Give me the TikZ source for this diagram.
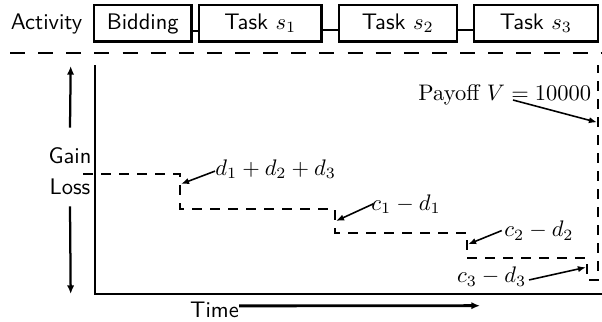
\documentclass[tikz,border=0pt]{standalone}
\usetikzlibrary{arrows.meta}
\begin{document}
\begin{tikzpicture}[x=0.4444pt,y=-0.4444pt,
  lbl/.style={font=\sffamily},
  actbox/.style={draw,line width=1pt,font=\sffamily,inner sep=0pt,
    minimum height=16.2pt,text height=7.5pt,text depth=2.1pt},
  link/.style={line width=1pt},
  axis/.style={line width=1pt},
  sep/.style={line width=1pt,dash pattern=on 6.7pt off 5.8pt},
  payoff/.style={line width=1.1pt,dash pattern=on 4.4pt off 3.6pt},
  dirarrow/.style={line width=1pt,-{Latex[length=3.8pt,width=3.2pt]}},
  note/.style={inner sep=0pt},
  notearrow/.style={line width=0.7pt,-{Latex[length=3.6pt,width=2.8pt]}},
  timearrow/.style={line width=1.3pt,-{Latex[length=3.8pt,width=3.2pt]}}
]
\useasboundingbox (0,0) rectangle (602,321);

% activity row
\node[lbl,anchor=base] (act) at (46.5,29.5) {Activity};
\node[actbox,minimum width=43.3pt] (bid) at (142.75,23.2) {Bidding};
\node[actbox,minimum width=54.5pt] (s1) at (260.3,23.2) {Task $s_1$};
\node[actbox,minimum width=52.3pt] (s2) at (397.8,23.2) {Task $s_2$};
\node[actbox,minimum width=54.8pt] (s3) at (536,23.2) {Task $s_3$};
\draw[link] ([yshift=-3.4pt]bid.east) -- ([yshift=-3.4pt]s1.west);
\draw[link] ([yshift=-3.1pt]s1.east) -- ([yshift=-3.1pt]s2.west);
\draw[link] ([yshift=-3.1pt]s2.east) -- ([yshift=-3.1pt]s3.west);

% separator
\draw[sep] (10,53) -- (602,53);

% axes
\coordinate (ytop) at (95,65);
\coordinate (orig) at (95,294);
\coordinate (xend) at (602,294);
\draw[axis] (ytop) -- (orig) -- (xend);

% gain / loss direction
\node[lbl] (gain) at (70,156) {Gain};
\node[lbl] (loss) at (70,187) {Loss};
\coordinate (gtip) at (70.7,66);
\coordinate (ltip) at (70.7,294);
\draw[dirarrow] ([yshift=5.5pt]gain.north) -- (gtip);
\draw[dirarrow] ([yshift=-1.5pt]loss.south) -- (ltip);

% time
\node[lbl,anchor=base,inner sep=0pt] (time) at (214.5,317.7) {Time};
\coordinate (ttip) at (480,305.7);
\draw[timearrow] ([yshift=1.9pt]time.east) -- (ttip);

% payoff staircase
\coordinate (p0) at (83,174);
\coordinate (p1) at (180,174);
\coordinate (p2) at (180,209);
\coordinate (p3) at (335,209);
\coordinate (p4) at (335,233);
\coordinate (p5) at (467,233);
\coordinate (p6) at (467,258);
\coordinate (p7) at (587,258);
\coordinate (p8) at (587,280);
\coordinate (p9) at (598,280);
\coordinate (p10) at (598,65);
\draw[payoff] (p0) -- (p1) -- (p2) -- (p3) -- (p4) -- (p5) -- (p6) -- (p7) -- (p8) -- (p9) -- (p10);

% annotations
\coordinate (t1) at (181,184);
\coordinate (t2) at (336,221);
\coordinate (t3) at (468,244.3);
\coordinate (t4) at (586,267.3);
\coordinate (t5) at (597,122.3);
\node[note,anchor=base west] (n1) at (215,175) {$d_1+d_2+d_3$};
\node[note,anchor=base west] (n2) at (371,210) {$c_1-d_1$};
\node[note,anchor=base west] (n3) at (504,236.7) {$c_2-d_2$};
\node[note,anchor=base west] (n4) at (456.7,282.7) {$c_3-d_3$};
\node[note,anchor=base west] (n5) at (418,100) {Payoff $V=10000$};
\draw[notearrow] ([yshift=-1pt]n1.west) -- (t1);
\draw[notearrow] ([xshift=1pt]n2.west) -- (t2);
\draw[notearrow] ([xshift=-1pt]n3.west) -- (t3);
\draw[notearrow] ([xshift=1pt,yshift=-1.5pt]n4.east) -- (t4);
\draw[notearrow] ([xshift=42.2pt]n5.base west) -- (t5);
\end{tikzpicture}
\end{document}
